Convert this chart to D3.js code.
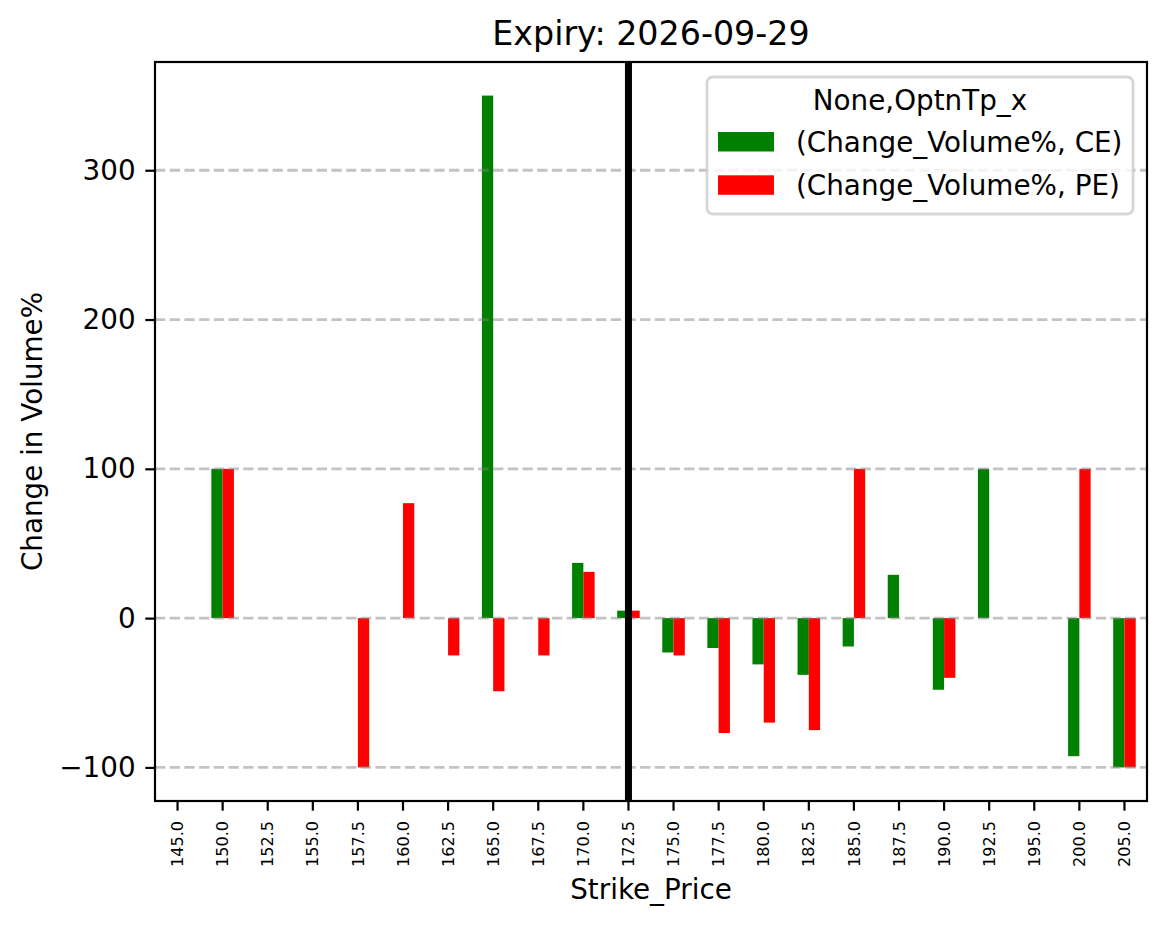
<!DOCTYPE html>
<html>
<head>
<meta charset="utf-8">
<script src="https://cdn.jsdelivr.net/npm/d3@7"></script>
<style>
  body { margin: 0; background: #fff; }
  text { font-family: "DejaVu Sans", sans-serif; fill: #000; }
</style>
</head>
<body>
<div id="chart"></div>
<script>
// Strike prices (categories) and the two series
const strikes = ["145.0", "150.0", "152.5", "155.0", "157.5", "160.0", "162.5", "165.0",
    "167.5", "170.0", "172.5", "175.0", "177.5", "180.0", "182.5", "185.0", "187.5",
    "190.0", "192.5", "195.0", "200.0", "205.0"];
const ceValues = [null, 100, null, null, null, null, null, 350, null, 37, 5, -23, -20, -31,
    -38, -19, 29, -48, 100, null, -92.5, -100];
const peValues = [null, 100, null, null, -100, 77, -25, -49, -25, 31, 5, -25, -77, -70,
    -75, 100, null, -40, null, null, 100, -100];
const yTicks = [-100, 0, 100, 200, 300];
const spotStrike = "172.5";
const seriesNames = ["(Change_Volume%, CE)", "(Change_Volume%, PE)"];
const seriesColors = ["#008000", "#ff0000"];

// Set dimensions and margins
const W = 1166, H = 928;
const margin = { top: 62, right: 19, bottom: 127, left: 155 },
    width = W - margin.left - margin.right,
    height = H - margin.top - margin.bottom;

const svgRoot = d3.select("#chart")
    .append("svg")
    .attr("width", W)
    .attr("height", H);

const svg = svgRoot.append("g")
    .attr("transform", `translate(${margin.left},${margin.top})`);

// Scales
const x = d3.scaleBand()
    .domain(strikes)
    .range([0, width])
    .padding(0);

const y = d3.scaleLinear()
    .domain([-122.5, 372.5])
    .range([height, 0]);

const barW = x.bandwidth() * 0.25;

// Bars
const series = [ceValues, peValues];
series.forEach((vals, si) => {
    const rows = strikes.map((s, i) => ({ s, v: vals[i] })).filter(d => d.v !== null);
    svg.append("g")
        .attr("fill", seriesColors[si])
        .selectAll("rect")
        .data(rows)
        .enter().append("rect")
        .attr("x", d => x(d.s) + x.bandwidth() / 2 - barW + si * barW)
        .attr("width", barW)
        .attr("y", d => y(Math.max(0, d.v)))
        .attr("height", d => Math.abs(y(d.v) - y(0)));
});

// Grid lines (drawn above the bars, as in the original)
svg.append("g")
    .selectAll("line")
    .data(yTicks)
    .enter().append("line")
    .attr("x1", 0)
    .attr("x2", width)
    .attr("y1", d => y(d))
    .attr("y2", d => y(d))
    .attr("stroke", "#808080")
    .attr("stroke-opacity", 0.47)
    .attr("stroke-width", 2.8)
    .attr("stroke-dasharray", "10.3,4.4");

// Vertical line at the spot strike
svg.append("line")
    .attr("x1", x(spotStrike) + x.bandwidth() / 2)
    .attr("x2", x(spotStrike) + x.bandwidth() / 2)
    .attr("y1", 0)
    .attr("y2", height)
    .attr("stroke", "#000")
    .attr("stroke-width", 7);

// Y axis
const yAxis = svg.append("g")
    .call(d3.axisLeft(y).tickValues(yTicks).tickSize(9.7).tickPadding(9.7));
yAxis.select(".domain").remove();
yAxis.selectAll("line").attr("stroke-width", 2.2);
yAxis.selectAll("text")
    .style("font-size", "27.8px")
    .style("font-family", "DejaVu Sans");

// X axis
const xAxis = svg.append("g")
    .attr("transform", `translate(0,${height})`)
    .call(d3.axisBottom(x).tickSize(9.7));
xAxis.select(".domain").remove();
xAxis.selectAll("line").attr("stroke-width", 2.2);
xAxis.selectAll("text")
    .attr("transform", "rotate(-90)")
    .attr("x", -20)
    .attr("y", 0)
    .attr("dy", "0.35em")
    .style("text-anchor", "end")
    .style("font-size", "16.1px")
    .style("font-family", "DejaVu Sans");

// Frame
svg.append("rect")
    .attr("width", width)
    .attr("height", height)
    .attr("fill", "none")
    .attr("stroke", "#000")
    .attr("stroke-width", 2.2);

// Title and axis labels
svgRoot.append("text")
    .attr("x", margin.left + width / 2)
    .attr("y", 45)
    .attr("text-anchor", "middle")
    .style("font-size", "33.3px")
    .text("Expiry: 2026-09-29");

svgRoot.append("text")
    .attr("x", margin.left + width / 2)
    .attr("y", 899)
    .attr("text-anchor", "middle")
    .style("font-size", "27.8px")
    .text("Strike_Price");

svgRoot.append("text")
    .attr("transform", `translate(42,${margin.top + height / 2}) rotate(-90)`)
    .attr("text-anchor", "middle")
    .style("font-size", "27.8px")
    .text("Change in Volume%");

// Legend
const legend = svgRoot.append("g");
legend.append("rect")
    .attr("x", 707)
    .attr("y", 77)
    .attr("width", 426)
    .attr("height", 137)
    .attr("rx", 5.6)
    .attr("fill", "#fff")
    .attr("fill-opacity", 0.8)
    .attr("stroke", "#cccccc")
    .attr("stroke-opacity", 0.8)
    .attr("stroke-width", 2.8);

legend.append("text")
    .attr("x", 920)
    .attr("y", 110)
    .attr("text-anchor", "middle")
    .style("font-size", "27.8px")
    .text("None,OptnTp_x");

seriesNames.forEach((name, i) => {
    const g = legend.append("g")
        .attr("transform", `translate(0, ${i * 43.3})`);
    g.append("rect")
        .attr("x", 718)
        .attr("y", 132)
        .attr("width", 56)
        .attr("height", 19.5)
        .attr("fill", seriesColors[i]);
    g.append("text")
        .attr("x", 796)
        .attr("y", 152)
        .style("font-size", "27.8px")
        .text(name);
});
</script>
</body>
</html>
